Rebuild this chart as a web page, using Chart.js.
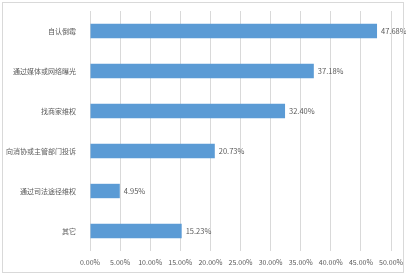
<!DOCTYPE html>
<html>
<head>
<meta charset="utf-8">
<script src="https://cdn.jsdelivr.net/npm/chart.js@4"></script>
<style>
  html, body { margin: 0; padding: 0; background: #fff; }
  #wrap { position: relative; width: 406px; height: 275px; }
  #frame { position: absolute; left: 2px; top: 2px; right: 2px; bottom: 2px; border: 1px solid #d9d9d9; pointer-events: none; }
</style>
</head>
<body>
<div id="wrap">
  <canvas id="chart" width="406" height="275"></canvas>
  <div id="frame"></div>
</div>
<script>
// 维权方式占比
const categories = ['自认倒霉', '通过媒体或网络曝光', '找商家维权', '向消协或主管部门投诉', '通过司法途径维权', '其它'];
const values = [47.68, 37.18, 32.40, 20.73, 4.95, 15.23];

const fontFamily = "'Noto Sans CJK SC', 'Noto Sans', sans-serif";

// 柱子末端的百分比标签
const valueLabels = {
    id: 'valueLabels',
    afterDatasetsDraw(chart) {
        const ctx = chart.ctx;
        const meta = chart.getDatasetMeta(0);
        ctx.save();
        ctx.fillStyle = '#595959';
        ctx.font = '7.5px ' + fontFamily;
        ctx.textBaseline = 'middle';
        ctx.textAlign = 'left';
        meta.data.forEach((bar, i) => {
            ctx.fillText(values[i].toFixed(2) + '%', bar.x + 4, bar.y);
        });
        ctx.restore();
    }
};

new Chart(document.getElementById('chart'), {
    type: 'bar',
    data: {
        labels: categories,
        datasets: [{
            data: values,
            backgroundColor: '#5b9bd5',
            borderWidth: 0,
            categoryPercentage: 1,
            barPercentage: 0.36
        }]
    },
    options: {
        indexAxis: 'y',
        responsive: false,
        animation: false,
        layout: { padding: { top: 11, right: 15, left: 0, bottom: 0 } },
        plugins: {
            legend: { display: false },
            tooltip: { enabled: false }
        },
        scales: {
            x: {
                min: 0,
                max: 50,
                ticks: {
                    stepSize: 5,
                    color: '#595959',
                    font: { family: fontFamily, size: 7 },
                    padding: 7,
                    maxRotation: 0,
                    minRotation: 0,
                    autoSkip: false,
                    callback: v => v.toFixed(2) + '%'
                },
                grid: { color: '#d9d9d9', drawTicks: false },
                border: { display: false },
                afterFit: s => { s.height = 24; s.paddingLeft = 0; s.paddingRight = 0; }
            },
            y: {
                ticks: {
                    color: '#595959',
                    font: { family: fontFamily, size: 7 },
                    padding: 6
                },
                grid: { display: false },
                border: { display: false },
                afterFit: s => { s.width = 90; }
            }
        }
    },
    plugins: [valueLabels]
});
</script>
</body>
</html>
